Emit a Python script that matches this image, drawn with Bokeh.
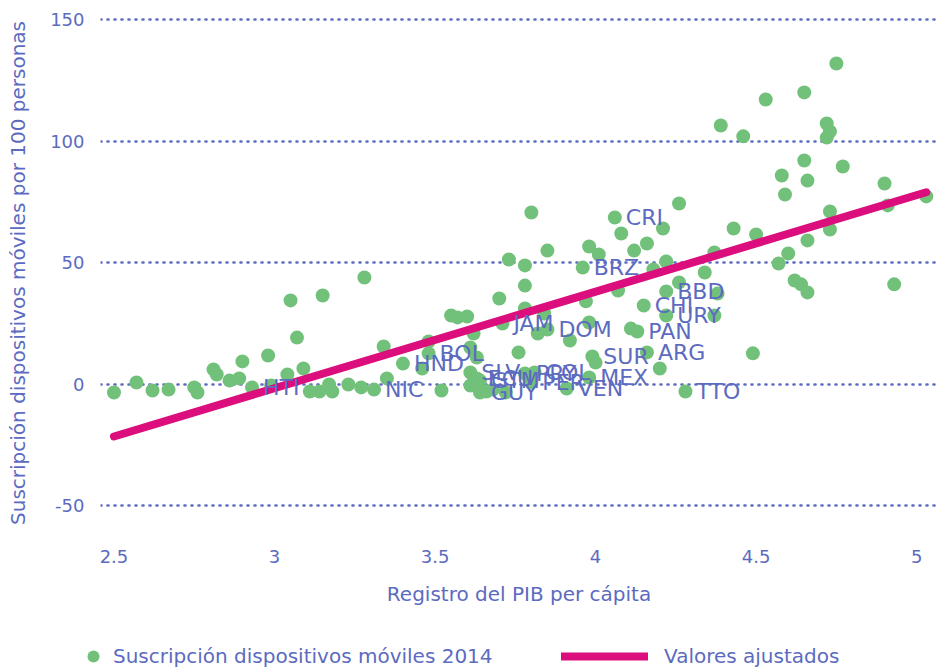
from bokeh.plotting import figure
from bokeh.layouts import column, row
from bokeh.models import FixedTicker, Range1d, Legend, LegendItem
from bokeh.embed import file_html
from bokeh.resources import INLINE
from bokeh.core.properties import value

# --- data (log GDP per capita, mobile subscriptions per 100 people, 2014) ---
log_gdp = [2.50, 2.57, 2.62, 2.67, 2.75, 2.76, 2.81, 2.82, 2.86, 2.89,
           2.90, 2.93, 2.98, 2.99, 3.04, 3.05, 3.07, 3.09, 3.11, 3.14,
           3.17, 3.18, 3.15, 3.23, 3.27, 3.28, 3.31, 3.34, 3.35, 3.40,
           3.48, 3.48, 3.46, 3.52, 3.55, 3.57, 3.60, 3.62, 3.61, 3.63,
           3.61, 3.63, 3.64, 3.64, 3.66, 3.70, 3.71, 3.76, 3.81, 3.82,
           3.84, 3.80, 3.73, 3.78, 3.78, 3.80, 3.78, 3.85, 3.91, 3.92,
           3.85, 3.96, 3.97, 3.98, 4.01, 4.06, 4.08, 4.12, 4.16, 4.21,
           4.26, 4.07, 3.98, 3.99, 4.00, 4.11, 4.13, 4.15, 4.18, 4.22,
           4.26, 4.22, 4.22, 4.16, 4.20, 4.28, 4.34, 4.37, 4.43, 4.50,
           4.38, 4.37, 4.49, 4.57, 4.60, 4.59, 4.62, 4.64, 4.66, 4.66,
           4.73, 4.73, 4.91, 4.90, 5.03, 4.93, 4.58, 4.66, 4.65, 4.77,
           4.39, 4.46, 4.53, 4.65, 4.75, 4.72, 4.73, 4.72, 3.98, 3.68,
           3.72, 3.78, 3.61]
subscriptions = [-3.3, 0.8, -2.5, -2.1, -1.2, -3.3, 6.2, 4.1, 1.6, 2.5,
                 9.5, -1.2, 11.9, -0.4, 4.1, 34.6, 19.3, 6.6, -2.9, -2.9,
                 0.0, -2.9, 36.6, 0.0, -1.2, 44.0, -2.1, 15.6, 2.5, 8.6,
                 12.8, 17.7, 6.6, -2.5, 28.4, 27.6, 28.0, 21.0, 15.2, 11.1,
                 4.9, 2.5, 1.6, -3.3, -2.9, 35.4, 25.1, 13.2, 4.9, 21.0,
                 29.2, 0.8, 51.4, 49.0, 40.7, 70.8, 31.3, 55.1, -1.7, 18.1,
                 22.6, 48.1, 34.2, 56.8, 53.5, 68.7, 62.1, 55.1, 58.0, 64.2,
                 74.5, 38.7, 25.5, 11.5, 9.0, 23.0, 21.8, 32.5, 47.3, 50.6,
                 42.0, 38.3, 28.4, 13.2, 6.6, -2.9, 46.1, 54.3, 64.2, 61.7,
                 37.4, 28.4, 12.8, 49.8, 53.9, 78.2, 42.8, 41.2, 37.9, 59.3,
                 71.2, 63.8, 73.7, 82.7, 77.4, 41.2, 86.0, 83.9, 92.2, 89.7,
                 106.6, 102.1, 117.3, 120.2, 132.1, 107.4, 104.1, 101.6, 2.9, -2.1,
                 -3.3, 4.5, -0.4]
codes = ["", "", "", "", "", "", "", "", "", "",
         "", "HTI", "", "", "", "", "", "", "", "",
         "", "", "", "", "", "", "NIC", "", "", "HND",
         "BOL", "", "", "", "", "", "", "", "", "",
         "SLV", "ECU", "GTM", "GUY", "", "", "JAM", "", "COL", "",
         "", "PER", "", "", "", "", "", "", "VEN", "",
         "DOM", "BRZ", "", "", "", "CRI", "", "", "", "",
         "", "", "", "SUR", "", "", "PAN", "CHI", "", "",
         "", "BBD", "URY", "ARG", "", "TTO", "", "", "", "",
         "", "", "", "", "", "", "", "", "", "",
         "", "", "", "", "", "", "", "", "", "",
         "", "", "", "", "", "", "", "", "MEX", "",
         "", "PRY", ""]

fit_x = [2.50, 5.03]
fit_y = [-21.4, 79.1]

x_ticks = [2.5, 3, 3.5, 4, 4.5, 5]
y_ticks = [-50, 0, 50, 100, 150]

lab_x = [x for x, c in zip(log_gdp, codes) if c]
lab_y = [y for y, c in zip(subscriptions, codes) if c]
lab_t = [c for c in codes if c]

BLUE = "#5c6bc0"
GREEN = "#72c17a"
PINK = "#dc0d7c"
FONT = "DejaVu Sans"

p = figure(width=940, height=644,
           x_range=Range1d(2.458, 5.065), y_range=Range1d(-62.15, 153.9),
           output_backend="svg", toolbar_location=None,
           min_border_left=100, min_border_right=3, min_border_top=10,
           min_border_bottom=109)
p.outline_line_color = None
p.background_fill_color = "white"
p.border_fill_color = "white"

sc = p.scatter(log_gdp, subscriptions, size=14, fill_color=GREEN, line_color=None)
ln = p.line(fit_x, fit_y, line_width=8, line_color=PINK, line_cap="round")
p.text(x=lab_x, y=lab_y, text=lab_t, x_offset=11, text_baseline="middle",
       text_align="left", text_font_size="22px", text_color=BLUE,
       text_font=value(FONT))

# axes
for ax in (p.xaxis[0], p.yaxis[0]):
    ax.axis_line_color = None
    ax.major_tick_line_color = None
    ax.minor_tick_line_color = None
    ax.major_label_text_font = FONT
    ax.major_label_text_font_size = "18px"
    ax.major_label_text_color = BLUE
    ax.axis_label_text_font = FONT
    ax.axis_label_text_font_size = "20px"
    ax.axis_label_text_font_style = "normal"
    ax.axis_label_text_color = BLUE

p.xaxis.ticker = FixedTicker(ticks=x_ticks)
p.xaxis.major_label_standoff = 8
p.xaxis.axis_label = "Registro del PIB per cápita"
p.xaxis.axis_label_standoff = 16

p.yaxis.ticker = FixedTicker(ticks=y_ticks)
p.yaxis.major_label_overrides = {-50: "-50"}
p.yaxis.major_label_standoff = 10
p.yaxis.axis_label = "Suscripción dispositivos móviles por 100 personas"
p.yaxis.axis_label_standoff = 17

p.xgrid.grid_line_color = None
p.ygrid.grid_line_color = BLUE
p.ygrid.grid_line_width = 2.6
p.ygrid.grid_line_dash = "1 6"
p.ygrid.grid_line_cap = "round"

# legend strip below the chart (series drawn out of its range, only legend glyphs show)
lg = figure(width=940, height=24, x_range=Range1d(0, 1), y_range=Range1d(0, 1),
            output_backend="svg", toolbar_location=None, min_border=0,
            min_border_left=0, min_border_right=0, min_border_top=0,
            min_border_bottom=0, x_axis_type=None, y_axis_type=None)
lg.outline_line_color = None
lg.grid.visible = False
lg.background_fill_color = "white"
lg.border_fill_color = "white"
lsc = lg.scatter(log_gdp, subscriptions, size=14, fill_color=GREEN, line_color=None)
lln = lg.line(fit_x, fit_y, line_width=8, line_color=PINK, line_cap="round")

common = dict(padding=0, margin=0, border_line_color=None,
              background_fill_alpha=0, label_text_font=FONT,
              label_text_font_size="20px", label_text_color=BLUE)
leg1 = Legend(items=[LegendItem(label="Suscripción dispositivos móviles 2014", renderers=[lsc])],
              location=(78, -3), glyph_width=30, glyph_height=30,
              label_standoff=5, **common)
leg2 = Legend(items=[LegendItem(label="Valores ajustados", renderers=[lln])],
              location=(561, -3), glyph_width=87, glyph_height=30,
              label_standoff=16, **common)
lg.add_layout(leg1, "center")
lg.add_layout(leg2, "center")

layout = column(p, row(lg), spacing=0)

with open("out.html", "w", encoding="utf-8") as f:
    f.write(file_html(layout, INLINE))
